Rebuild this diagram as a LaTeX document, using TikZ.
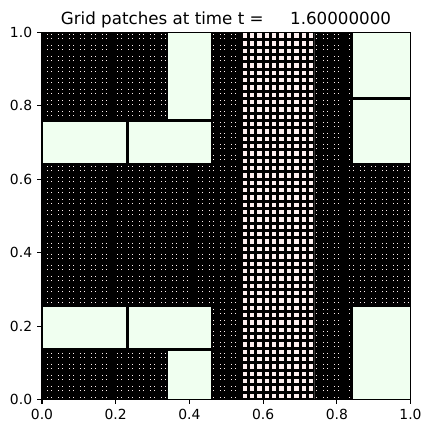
\documentclass[tikz,border=0pt]{standalone}
\usepackage{fontspec}
\setmainfont{DejaVu Sans}
\definecolor{patchgreen}{HTML}{F0FFF0}
\definecolor{cellpink}{HTML}{FFF0F0}
\tikzset{
  patchbox/.style={fill=patchgreen, draw=black, line width=1.5pt},
  finegrid/.style={draw=black, line width=3.05pt},
  coarsegrid/.style={draw=black, line width=3pt},
  ticklab/.style={font=\fontsize{13.9}{16}\selectfont, inner sep=0pt},
  tickmark/.style={draw=black, line width=1.1pt},
}
\begin{document}
\begin{tikzpicture}[x=1pt,y=1pt]
\useasboundingbox (0,0) rectangle (432,435);
\fill[white] (0,0) rectangle (432,435);
\node[font=\fontsize{16.7}{20}\selectfont, anchor=base, inner sep=0pt] (title) at (226,410) {Grid patches at time t =\ \ \ \ \ 1.60000000};
\begin{scope}[shift={(42,35.5)}, x=368.5pt, y=367pt]
  \fill[cellpink] (0,0) rectangle (1,1);
  \begin{scope}
    \clip (0,0) rectangle (0.54,1) (0.74,0) rectangle (1,1);
    \draw[finegrid] (0,0) grid[step=0.01] (1,1);
  \end{scope}
  \begin{scope}
    \clip (0.54,0) rectangle (0.74,1);
    \draw[coarsegrid] (0,0) grid[step=0.02] (1,1);
  \end{scope}
  % patches
  \draw[patchbox] (0.34,0.763) rectangle (0.46,1);
  \draw[patchbox] (0,0.641) rectangle (0.229,0.759);
  \draw[patchbox] (0.233,0.641) rectangle (0.46,0.759);
  \draw[patchbox] (0,0.137) rectangle (0.229,0.255);
  \draw[patchbox] (0.233,0.137) rectangle (0.46,0.255);
  \draw[patchbox] (0.34,0) rectangle (0.46,0.133);
  \draw[patchbox] (0.843,0.822) rectangle (1,1);
  \draw[patchbox] (0.843,0.641) rectangle (1,0.818);
  \draw[patchbox] (0.843,0) rectangle (1,0.255);
  % frame
  \draw[black, line width=1.1pt] (0,0) rectangle (1,1);
  \foreach \i/\v/\t in {0/0/0.0, 1/0.2/0.2, 2/0.4/0.4, 3/0.6/0.6, 4/0.8/0.8, 5/1/1.0} {
    \coordinate (xt\i) at (\v,0);
    \coordinate (yt\i) at (0,\v);
    \draw[tickmark] (xt\i) -- ++(0,-4.86pt);
    \draw[tickmark] (yt\i) -- ++(-4.86pt,0);
    \node[ticklab, anchor=north] (xl\i) at ([yshift=-9.7pt]xt\i) {\t};
    \node[ticklab, anchor=east] (yl\i) at ([xshift=-9.7pt]yt\i) {\t};
  }
\end{scope}
\end{tikzpicture}
\end{document}
